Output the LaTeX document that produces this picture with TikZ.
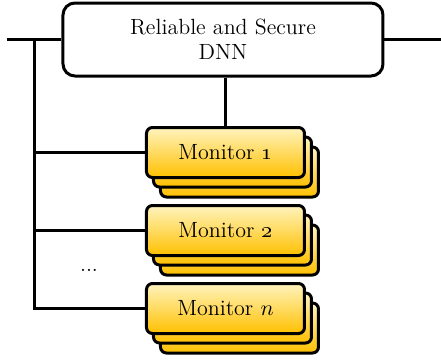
\documentclass[tikz,border=0pt]{standalone}
\usetikzlibrary{positioning}
\definecolor{goldtop}{RGB}{255,244,190}
\definecolor{goldbot}{RGB}{255,192,0}
\tikzset{
  wire/.style={line width=1.5pt},
  mainbox/.style={draw, line width=1.5pt, rounded corners=6pt, fill=white,
    minimum width=160pt, minimum height=36.5pt, align=center,
    font=\fontsize{11}{12.5}\selectfont, inner sep=0pt},
  monbox/.style={draw, line width=1.5pt, rounded corners=3pt,
    top color=goldtop, bottom color=goldbot,
    minimum width=79pt, minimum height=25pt, inner sep=0pt,
    font=\fontsize{11}{13}\selectfont},
}
\begin{document}
\begin{tikzpicture}[x=0.5pt,y=-0.5pt]
\useasboundingbox (0,0) rectangle (441,360);

% central network block
\node[mainbox] (dnn) at (223,39.5) {Reliable and Secure\\DNN};

% stacked monitor blocks: two copies behind each front block
\node[monbox] (m1c) at (239.5,172) {};
\node[monbox] (m1b) at (232.5,162) {};
\node[monbox] (m1)  at (225.5,152.5) {Monitor \oldstylenums{1}};

\node[monbox] (m2c) at (239.5,250) {};
\node[monbox] (m2b) at (232.5,240) {};
\node[monbox] (m2)  at (225.5,230.5) {Monitor \oldstylenums{2}};

\node[monbox] (mnc) at (239.5,328) {};
\node[monbox] (mnb) at (232.5,318) {};
\node[monbox] (mn)  at (225.5,308.5) {Monitor $n$};

\node[font=\fontsize{11}{13}\selectfont] (dots) at (89,270) {...};

% wiring
\coordinate (lin)  at (7,39.5);
\coordinate (rout) at (441,39.5);
\coordinate (bus)  at (35,39.5);
\draw[wire] (lin) -- (dnn.west);
\draw[wire] (dnn.east) -- (rout);
\draw[wire] (m1.north) -- (m1.north |- dnn.south);
\draw[wire] (bus) |- (mn.west);
\draw[wire] (bus |- m1.west) -- (m1.west);
\draw[wire] (bus |- m2.west) -- (m2.west);
\end{tikzpicture}
\end{document}
